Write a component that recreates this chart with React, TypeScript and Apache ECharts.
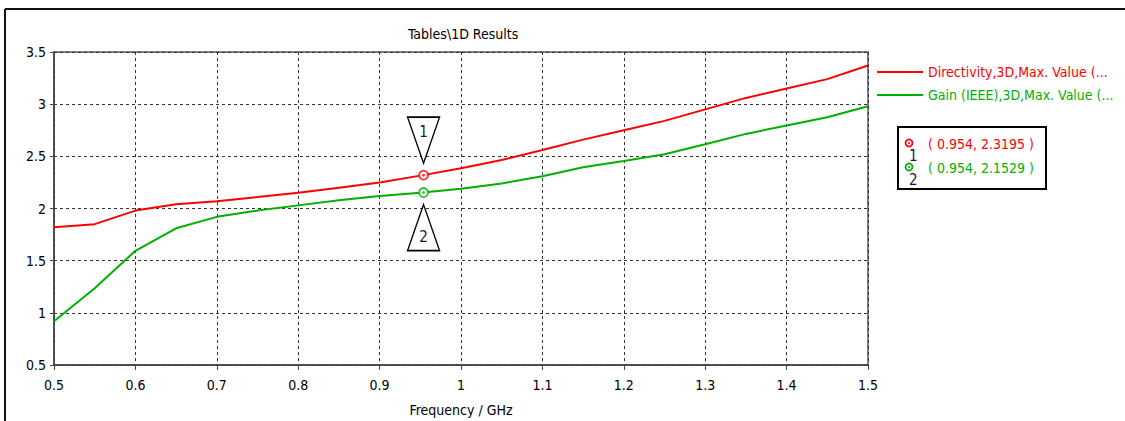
import React, { useEffect, useRef } from "react";
import * as echarts from "echarts";

const frequency = [0.5, 0.55, 0.6, 0.65, 0.7, 0.75, 0.8, 0.85, 0.9, 0.95, 1.0, 1.05, 1.1, 1.15, 1.2, 1.25, 1.3, 1.35, 1.4, 1.45, 1.5];
const directivity = [1.82, 1.85, 1.98, 2.04, 2.07, 2.11, 2.15, 2.2, 2.25, 2.315, 2.385, 2.465, 2.56, 2.66, 2.75, 2.84, 2.95, 3.06, 3.15, 3.24, 3.37];
const gain = [0.92, 1.235, 1.595, 1.81, 1.92, 1.98, 2.03, 2.08, 2.12, 2.15, 2.19, 2.24, 2.31, 2.395, 2.455, 2.52, 2.615, 2.715, 2.795, 2.875, 2.98];
const seriesNames = ["Directivity,3D,Max. Value (...", "Gain (IEEE),3D,Max. Value (..."];
const markerX = [0.954, 0.954];
const markerY = [2.3195, 2.1529];
const markerLabels = ["1", "2"];
const colors = ["#ff0000", "#00b000"];
const FONT = "DejaVu Sans Condensed";

export default function App() {
  const ref = useRef<HTMLDivElement>(null);
  useEffect(() => {
    const chart = echarts.init(ref.current!, null, { renderer: "svg" });
    const lineData = [directivity, gain].map((arr) => arr.map((v, i) => [frequency[i], v]));
    const downTri = "path://M0,0 L32,0 L16,46 Z";
    const upTri = "path://M16,0 L32,46 L0,46 Z";
    const boxText = markerX.map((x, i) => `( ${x}, ${markerY[i]} )`);
    chart.setOption({
      animation: false,
      textStyle: { fontFamily: FONT },
      grid: {
        left: 54, top: 52, right: 257, bottom: 56,
        outerBoundsMode: "none", containLabel: false,
        show: true, borderColor: "#555", borderWidth: 1.5,
      },
      title: {
        text: "Tables\\1D Results",
        left: 403,
        top: 22,
        textStyle: { fontFamily: FONT, fontSize: 14, fontWeight: "normal", color: "#000" },
      },
      legend: {
        data: seriesNames.map((n, i) => ({ name: n, textStyle: { color: colors[i] } })),
        orient: "vertical",
        left: 872,
        top: 60,
        icon: "rect",
        itemWidth: 46,
        itemHeight: 2,
        itemGap: 9,
        textStyle: { fontFamily: FONT, fontSize: 14 },
      },
      xAxis: {
        type: "value",
        min: 0.5,
        max: 1.5,
        interval: 0.1,
        name: "Frequency / GHz",
        nameLocation: "middle",
        nameGap: 38,
        nameTextStyle: { fontFamily: FONT, fontSize: 14, color: "#000" },
        axisLine: { show: true, lineStyle: { color: "#444", width: 1.5 } },
        axisTick: { show: true, length: 5, lineStyle: { color: "#444" } },
        axisLabel: { margin: 13, fontFamily: FONT, fontSize: 14, color: "#000", formatter: (v: number) => String(+v.toFixed(2)) },
        splitLine: { show: true, lineStyle: { color: "#333", type: [3, 3], width: 1 } },
      },
      yAxis: {
        type: "value",
        min: 0.5,
        max: 3.5,
        interval: 0.5,
        axisLine: { show: true, lineStyle: { color: "#444", width: 1.5 } },
        axisTick: { show: true, length: 4, lineStyle: { color: "#444" } },
        axisLabel: { margin: 8, fontFamily: FONT, fontSize: 14, color: "#000", formatter: (v: number) => String(+v.toFixed(2)) },
        splitLine: { show: true, lineStyle: { color: "#333", type: [3, 3], width: 1 } },
      },
      series: [
        ...seriesNames.map((n, i) => ({
          name: n,
          type: "line",
          data: lineData[i],
          symbol: "none",
          lineStyle: { color: colors[i], width: 2 },
          itemStyle: { color: colors[i] },
          z: 3,
          markPoint: {
            silent: true,
            data: [
              {
                coord: [markerX[i], markerY[i]],
                symbol: i === 0 ? downTri : upTri,
                symbolSize: [32, 46],
                symbolKeepAspect: false,
                symbolOffset: [0, i === 0 ? -35 : 35],
                itemStyle: { color: "#fff", borderColor: "#000", borderWidth: 1.5 },
                label: {
                  show: true,
                  formatter: markerLabels[i],
                  position: "inside",
                  offset: [0, i === 0 ? -8 : 9],
                  fontFamily: FONT,
                  fontSize: 15,
                  color: "#1a1a4a",
                },
              },
            ],
          },
        })),
        ...seriesNames.map((n, i) => ({
          name: n + " marker",
          type: "scatter",
          data: [[markerX[i], markerY[i]]],
          symbol: "circle",
          symbolSize: 9,
          itemStyle: { color: "#fff", borderColor: colors[i], borderWidth: 1.8 },
          z: 5,
          silent: true,
        })),
        ...seriesNames.map((n, i) => ({
          name: n + " dot",
          type: "scatter",
          data: [[markerX[i], markerY[i]]],
          symbol: "circle",
          symbolSize: 2.5,
          itemStyle: { color: colors[i] },
          z: 6,
          silent: true,
        })),
      ],
      graphic: [
        { type: "line", shape: { x1: 5, y1: 9, x2: 1125, y2: 9 }, style: { stroke: "#111", lineWidth: 2 } },
        { type: "line", shape: { x1: 5, y1: 9, x2: 5, y2: 421 }, style: { stroke: "#111", lineWidth: 2 } },
        { type: "rect", shape: { x: 898, y: 127, width: 148, height: 62 }, style: { fill: "#fff", stroke: "#000", lineWidth: 2 } },
        ...markerLabels.flatMap((lbl, i) => [
          { type: "circle", shape: { cx: 909, cy: 143 + i * 24, r: 3.5 }, style: { fill: "#fff", stroke: colors[i], lineWidth: 1.8 } },
          { type: "circle", shape: { cx: 909, cy: 143 + i * 24, r: 1 }, style: { fill: colors[i] } },
          { type: "text", x: 909, y: 148 + i * 24, style: { text: lbl, fill: "#1a1a4a", font: `15px "${FONT}"` } },
          { type: "text", x: 928, y: 137 + i * 24, style: { text: boxText[i], fill: colors[i], font: `14px "${FONT}"` } },
        ]),
      ],
    });
    return () => chart.dispose();
  }, []);
  return <div ref={ref} style={{ position: "fixed", left: 0, top: 0, width: 1125, height: 421, background: "#fff" }} />;
}
